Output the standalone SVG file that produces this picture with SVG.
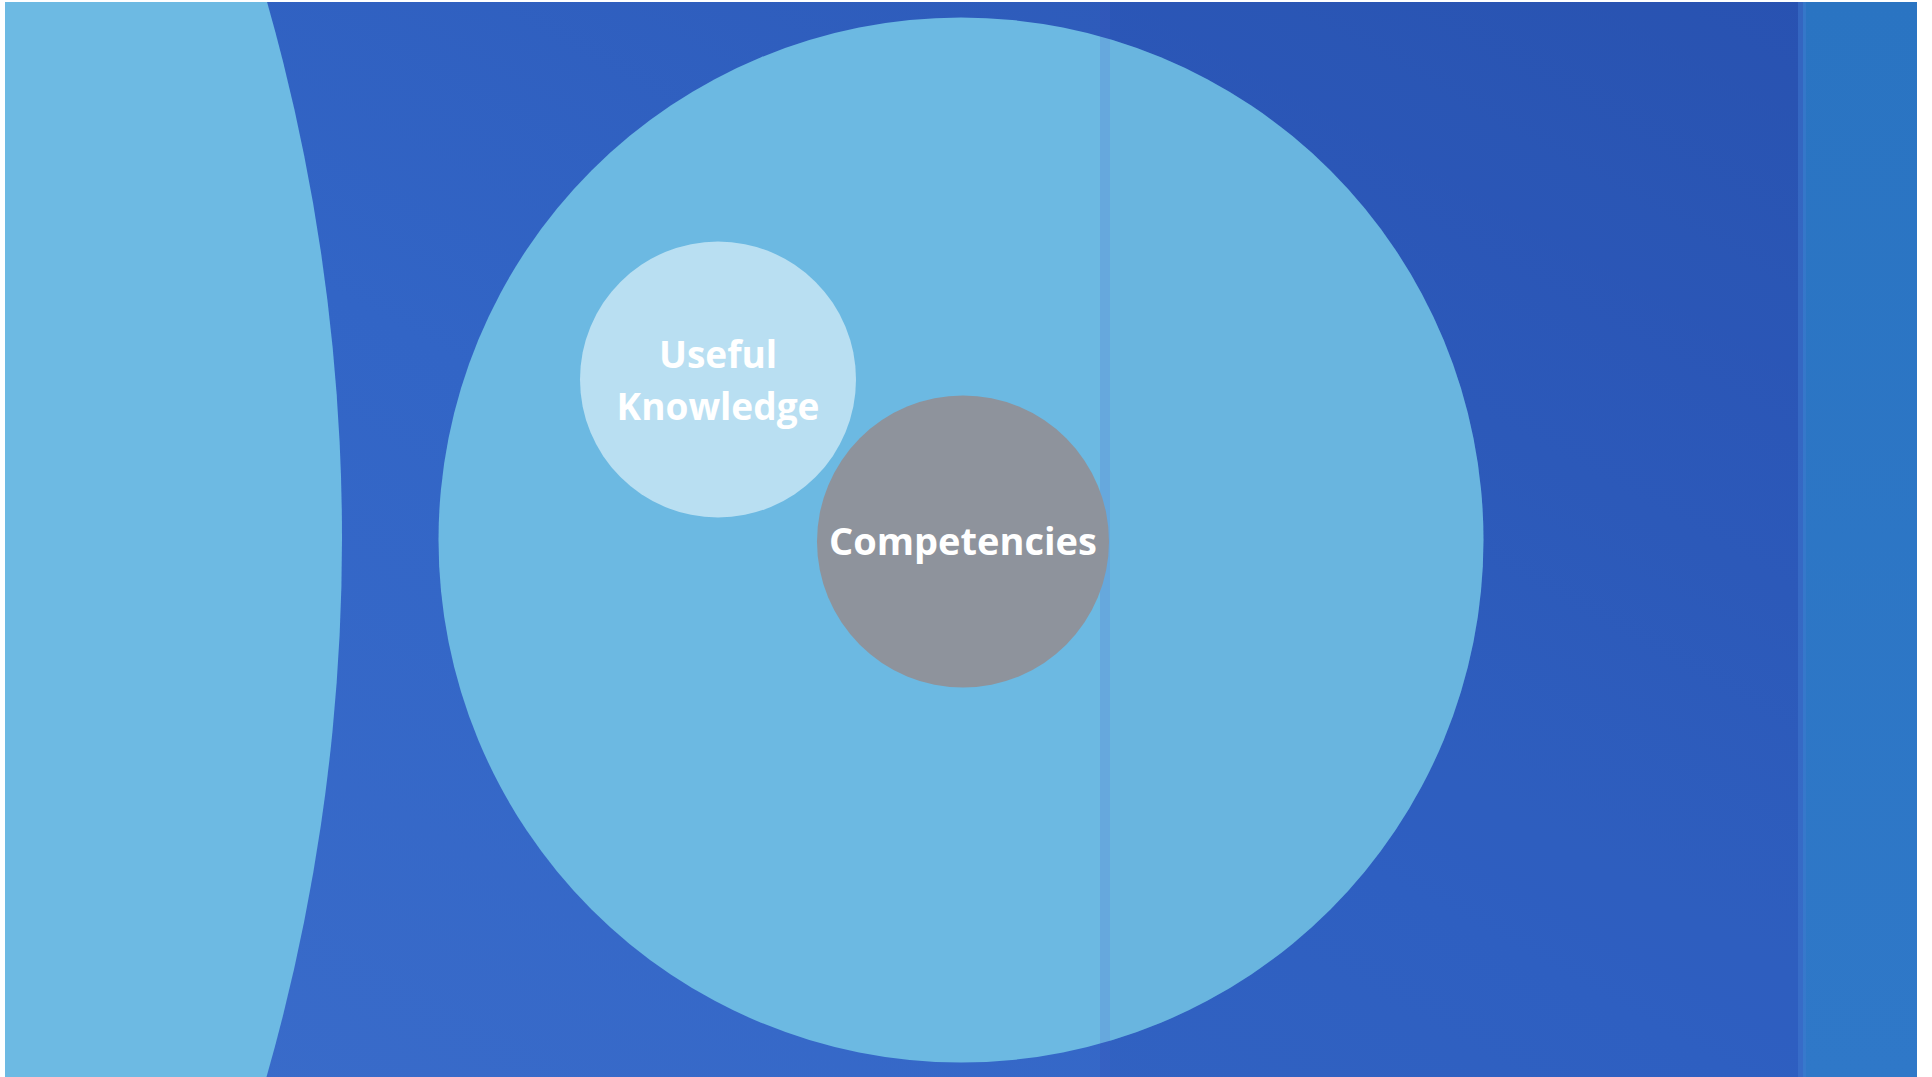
<svg xmlns="http://www.w3.org/2000/svg" width="1932" height="1077" viewBox="0 0 1932 1077">
  <defs>
    <linearGradient id="bg" x1="0" y1="1" x2="1" y2="0">
      <stop offset="0" stop-color="#3a6cca"/>
      <stop offset="0.45" stop-color="#3265c6"/>
      <stop offset="1" stop-color="#2b55b3"/>
    </linearGradient>
    <linearGradient id="strip" x1="0" y1="0" x2="0" y2="1">
      <stop offset="0" stop-color="#2a74c2"/>
      <stop offset="1" stop-color="#2f78c8"/>
    </linearGradient>
    <clipPath id="frame"><rect x="5" y="2" width="1912" height="1075"/></clipPath>
    <style>
      .lbl { font-family: "Open Sans", "Noto Sans", "Liberation Sans", sans-serif; font-weight: 700; fill: #ffffff; text-anchor: middle; }
    </style>
  </defs>
  <rect x="0" y="0" width="1932" height="1077" fill="#ffffff"/>
  <g clip-path="url(#frame)">
    <rect x="0" y="0" width="1932" height="1077" fill="url(#bg)"/>
    <rect x="1100" y="0" width="703" height="1077" fill="#1c3a9a" opacity="0.12"/>
    <rect x="1803" y="0" width="130" height="1077" fill="url(#strip)"/>
    <rect x="1798" y="0" width="8" height="1077" fill="#3f7ad0" opacity="0.5"/>
    <g id="left-shape">
      <circle cx="-1616" cy="538.5" r="1958" fill="#6dbae3"/>
    </g>
    <g id="outer-circle">
      <circle cx="961" cy="540" r="522.5" fill="#6cb9e2"/>
      <rect x="1110" y="0" width="400" height="1077" fill="#5aa0d0" opacity="0.12" clip-path="url(#oc)"/>
    </g>
    <rect x="1100" y="0" width="10" height="1077" fill="#5060c8" opacity="0.18"/>
  </g>
  <clipPath id="oc"><circle cx="961" cy="540" r="522.5"/></clipPath>
  <g id="useful-knowledge">
    <circle cx="718" cy="379.5" r="138" fill="#b9dff2"/>
    <text class="lbl" x="718" y="368" font-size="37">Useful</text>
    <text class="lbl" x="718" y="420" font-size="37">Knowledge</text>
  </g>
  <g id="competencies">
    <circle cx="963" cy="541.5" r="146" fill="#8e939c"/>
    <text class="lbl" x="963" y="555" font-size="38">Competencies</text>
  </g>
  <g id="connectors"/>
</svg>
